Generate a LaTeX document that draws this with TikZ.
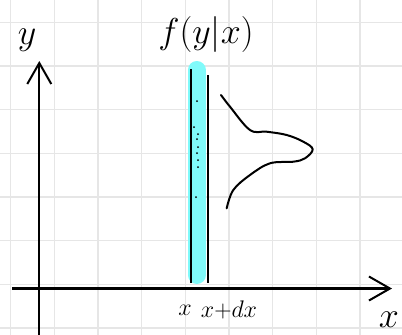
\RequirePackage{fix-cm}
\documentclass[tikz,border=0pt]{standalone}
\usepackage{amsmath}
\usepackage{amssymb}
\usetikzlibrary{calc}
\usetikzlibrary{arrows.meta}

\definecolor{bandcyan}{RGB}{128,250,250}
\definecolor{gridgray}{RGB}{230,230,230}

\tikzset{
  gridline/.style={gridgray,line width=1.3pt},
  axis/.style={line width=2.3pt,-{Straight Barb[length=21pt,width=24pt,line width=2pt]}},
  hand/.style={line width=2pt,line cap=round,line join=round},
  big/.style={font=\fontsize{36}{40}\selectfont},
  mid/.style={font=\fontsize{24}{28}\selectfont}
}

\begin{document}
\begin{tikzpicture}[x=1pt,y=-1pt,inner sep=0pt]
\def\g{43.67}
\fill[white] (0,0) rectangle (402,335);
\useasboundingbox (0,0) rectangle (402,335);
\foreach \i in {0,...,8} \draw[gridline] ({10.7+\i*\g},0) -- ++(0,335);
\foreach \j in {0,...,7} \draw[gridline] (0,{22.3+\j*\g}) -- ++(402,0);

% axes
\coordinate (ybot) at (39.3,335);
\coordinate (ytop) at (39.3,61);
\coordinate (xleft) at (12.3,288.5);
\coordinate (xright) at (392,288.5);
\draw[axis] (ybot) -- (ytop);
\draw[axis] (xleft) -- (xright);
\node[big] (ylab) at (27,40) {$y$};
\node[big] (xlab) at (389,320) {$x$};

% strip between x and x+dx
\draw[bandcyan,line width=18pt,line cap=round] (196.7,70) -- (196.7,275);
\draw[line width=2.5pt] (191,69.3) -- (191,282.7);
\draw[line width=2pt] (208.3,75) -- (208.3,283.3);
\foreach \p in {(197,101),(194,127),(198,134),(197,139),(198,147),(197,153),(198,160),(198,167),(196,197)}
  \fill \p circle (1pt);

% conditional density
\draw[hand] plot[smooth,tension=0.6] coordinates {(221,95) (230,106.7) (250,130) (266.7,131.7) (286.7,135) (303.3,141.7) (312.7,149.3) (305,158.3) (293.3,161.7) (270,163.3) (250,175) (233.3,190) (226.7,208.3)};

\node[big] (title) at (206,34) {$f(y|x)$};
\node[mid] (xa) at (185,310) {$x$};
\node[mid] (xb) at (229,310) {$x{+}dx$};
\end{tikzpicture}
\end{document}
